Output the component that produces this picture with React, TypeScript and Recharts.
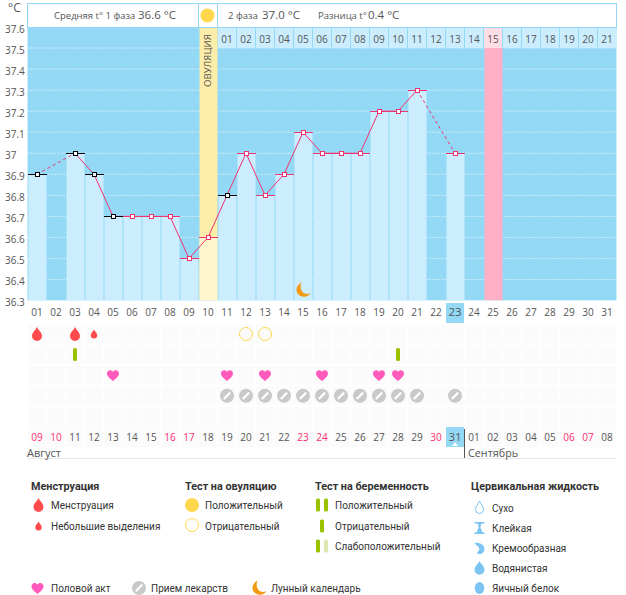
import React from 'react';
import { ComposedChart, Bar, Line, Cell, XAxis, YAxis, CartesianGrid } from 'recharts';

const FONT = '"Open Sans", sans-serif';
const LEGEND_FONT = 'Roboto, sans-serif';
const BLUE = '#93D9F6';
const LIGHT = '#CBEDFE';
const PINK = '#F0326E';
const TEXT = '#555';

const days = ['01','02','03','04','05','06','07','08','09','10','11','12','13','14','15','16','17','18','19','20','21','22','23','24','25','26','27','28','29','30','31'];
const dates = ['09','10','11','12','13','14','15','16','17','18','19','20','21','22','23','24','25','26','27','28','29','30','31','01','02','03','04','05','06','07','08'];
const redDates = ['09','10','16','17','23','24','30','06','07'];
const phaseDays = ['','','','','','','','','','','01','02','03','04','05','06','07','08','09','10','11','12','13','14','15','16','17','18','19','20','21'];
const temps = [36.9,null,37,36.9,36.7,36.7,36.7,36.7,36.5,36.6,36.8,37,36.8,36.9,37.1,37,37,37,37.2,37.2,37.3,null,37,null,null,null,null,null,null,null,null];
const gapStart = [36.9,null,37,null,null,null,null,null,null,null,null,null,null,null,null,null,null,null,null,null,null,null,null,null,null,null,null,null,null,null,null];
const gapEnd = [null,null,null,null,null,null,null,null,null,null,null,null,null,null,null,null,null,null,null,null,37.3,null,37,null,null,null,null,null,null,null,null];
const blackMarks = ['01','03','04','05','11'];
const tempTicks = [37.6,37.5,37.4,37.3,37.2,37.1,37,36.9,36.8,36.7,36.6,36.5,36.4,36.3];
const ovulationDay = '10';
const periodDay = '25';
const todayDay = '23';
const todayDate = '31';
const moonDays = ['15'];
const heavyFlow = ['01','03'];
const lightFlow = ['04'];
const negativeOvulation = ['12','13'];
const negativePregnancy = ['03','20'];
const hearts = ['05','11','13','16','19','20'];
const pills = ['11','12','13','14','15','16','17','18','19','20','21','23'];
const symbolRows = [0,1,2,3,4];

const tempData = days.map((day, i) => ({
  day,
  temp: temps[i],
  gapStart: gapStart[i],
  gapEnd: gapEnd[i],
  ovulation: day === ovulationDay ? 37.6 : null,
  period: day === periodDay ? 37.5 : null,
  moon: moonDays.includes(day) ? 36.35 : null,
}));

const rowData = days.map((day) => ({
  day,
  row0: 0, row1: 1, row2: 2, row3: 3, row4: 4,
  heavy: heavyFlow.includes(day) ? 0 : null,
  light: lightFlow.includes(day) ? 0 : null,
  ovu: negativeOvulation.includes(day) ? 0 : null,
  preg: negativePregnancy.includes(day) ? 1 : null,
  heart: hearts.includes(day) ? 2 : null,
  pill: pills.includes(day) ? 3 : null,
}));

const Drop = ({ x, y, s = 1 }: any) => (
  <path transform={`translate(${x},${y}) scale(${s})`} fill="#FF4B4B" d="M0,-7 C1.2,-4 5,-1.6 5,2 A5,5 0 0 1 -5,2 C-5,-1.6 -1.2,-4 0,-7 Z" />
);
const Heart = ({ x, y }: any) => (
  <path transform={`translate(${x},${y})`} fill="#FF5ABC" d="M0,6 C-2,4 -6,1.8 -6,-1.6 C-6,-3.8 -4.4,-5 -2.8,-5 C-1.6,-5 -0.6,-4.4 0,-3.4 C0.6,-4.4 1.6,-5 2.8,-5 C4.4,-5 6,-3.8 6,-1.6 C6,1.8 2,4 0,6 Z" />
);
const Pill = ({ x, y }: any) => (
  <g>
    <circle cx={x} cy={y} r={7} fill="#C9C9C9" />
    <line x1={x - 3.2} y1={y + 3.2} x2={x + 3.2} y2={y - 3.2} stroke="#fff" strokeWidth={2.2} />
  </g>
);
const Moon = ({ x, y }: any) => (
  <path transform={`translate(${x},${y})`} fill="#F39A14" d="M-1.5,-7.5 C-6,-5 -7.5,-1 -6,2.5 C-4.5,6 0,7.5 3,6.5 C5,6 6.5,4.8 7.5,3 C5,4.5 2,4.2 0,2.5 C-2.5,0 -3,-4 -1.5,-7.5 Z" />
);
const Ring = ({ x, y, fill = 'none' }: any) => (
  <circle cx={x} cy={y} r={6.5} fill={fill} stroke="#FFD84D" strokeWidth={1} />
);
const Stick = ({ x, y, fill = '#9BC200' }: any) => (
  <rect x={x - 2} y={y - 6.5} width={4} height={13} rx={1.5} fill={fill} />
);

// line with no stroke, only used to place a symbol through the chart scales
const symbolDot = (Shape: any, extra: any = {}) => (props: any) => {
  if (props.cy == null || props.payload == null) return <g key={props.key ?? props.index} />;
  return <g key={props.index}><Shape x={props.cx} y={props.cy} {...extra} /></g>;
};

const tempDot = (props: any) => {
  const { cx, cy, payload, index } = props;
  if (cy == null) return <g key={index} />;
  const color = blackMarks.includes(payload.day) ? '#000' : PINK;
  const px = Math.floor(cx);
  const py = Math.round(cy);
  return (
    <g key={index}>
      <line x1={px - 9} x2={px + 10} y1={py + 0.5} y2={py + 0.5} stroke={color} />
      <rect x={px - 1.5} y={py - 1.5} width={4} height={4} fill="#fff" stroke={color} />
    </g>
  );
};

const YTick = ({ y, payload }: any) => (
  <text x={5} y={y + 5.5} fontSize={10} fill={TEXT} fontFamily={FONT}>{payload.value}</text>
);

const DayTick = ({ x, payload }: any) => {
  const today = payload.value === todayDay;
  return (
    <g>
      {today && <rect x={x - 9} y={303} width={18} height={20} fill={BLUE} />}
      <text x={x} y={316} textAnchor="middle" fontSize={today ? 11.5 : 10} fill={TEXT} fontFamily={FONT}>{payload.value}</text>
    </g>
  );
};

const PhaseTick = ({ x, index }: any) => {
  const label = phaseDays[index];
  if (!label) return <g />;
  return (
    <g>
      <rect x={x - 9} y={28} width={18} height={20} fill={days[index] === periodDay ? '#FFDDE6' : LIGHT} />
      <text x={x} y={43} textAnchor="middle" fontSize={10} fill={TEXT} fontFamily={FONT}>{label}</text>
    </g>
  );
};

const DateTick = ({ x, index }: any) => {
  const label = dates[index];
  const today = label === todayDate;
  return (
    <g>
      <rect x={x - 9} y={427} width={18} height={20} fill={today ? BLUE : '#FBFBFB'} />
      {today && <path d={`M${x - 3},446 L${x},442 L${x + 3},446 Z`} fill="#fff" />}
      <text x={x} y={441} textAnchor="middle" fontSize={today ? 11.5 : 10} fill={redDates.includes(label) ? '#FF2D6F' : TEXT} fontFamily={FONT}>{label}</text>
    </g>
  );
};

const CellShape = ({ x, y }: any) => <rect x={x - 9} y={y - 9.5} width={18} height={19} fill="#FBFBFB" />;

const T = ({ x, y, size = 10, bold, fill = '#333', font = LEGEND_FONT, children }: any) => (
  <text x={x} y={y} fontSize={size} fontWeight={bold ? 700 : 400} fill={fill} fontFamily={font}>{children}</text>
);
const H = ({ x, y, size = 10, children }: any) => (
  <T x={x} y={y} size={size} fill={TEXT} font={FONT}>{children}</T>
);

const flowLegend = ['Менструация', 'Небольшие выделения'];
const ovuLegend = ['Положительный', 'Отрицательный'];
const pregLegend = ['Положительный', 'Отрицательный', 'Слабоположительный'];
const fluidLegend = ['Сухо', 'Клейкая', 'Кремообразная', 'Водянистая', 'Яичный белок'];
const FLUID = '#7CC4F4';

function Overlay() {
  return (
    <svg width={626} height={595} style={{ position: 'absolute', left: 0, top: 0 }}>
      {/* header */}
      <rect x={27.5} y={3.5} width={589} height={24} fill="#fff" stroke={BLUE} />
      <line x1={198.5} x2={198.5} y1={3} y2={27} stroke={BLUE} />
      <line x1={217.5} x2={217.5} y1={3} y2={27} stroke={BLUE} />
      <circle cx={207.5} cy={15.5} r={7} fill="#FFD84D" />
      <H x={54} y={19} size={9.5}>Средняя t° 1 фаза</H>
      <H x={138} y={19} size={11.5}>36.6 °C</H>
      <H x={228} y={19} size={9.5}>2 фаза</H>
      <H x={262} y={19} size={11.5}>37.0 °C</H>
      <H x={318} y={19} size={9.5}>Разница t°</H>
      <H x={368} y={19} size={11.5}>0.4 °C</H>
      <H x={8} y={12} size={12}>°C</H>
      <text transform="translate(211,87) rotate(-90)" fontSize={9.6} fill={TEXT} fontFamily={FONT}>ОВУЛЯЦИЯ</text>

      {/* months */}
      <line x1={27} x2={616} y1={458.5} y2={458.5} stroke="#E8E8E8" />
      <line x1={464.5} x2={464.5} y1={429} y2={458} stroke={TEXT} />
      <H x={27} y={457} size={11}>Август</H>
      <H x={468} y={457} size={10.8}>Сентябрь</H>

      {/* legend */}
      <T x={31} y={490} size={10.8} bold>Менструация</T>
      <Drop x={38.5} y={505} />
      <T x={51} y={509}>{flowLegend[0]}</T>
      <Drop x={38.5} y={526} s={0.65} />
      <T x={51} y={530}>{flowLegend[1]}</T>

      <T x={185} y={490} size={10.8} bold>Тест на овуляцию</T>
      <circle cx={192} cy={505} r={7} fill="#FFD84D" />
      <T x={205} y={509}>{ovuLegend[0]}</T>
      <Ring x={192} y={525} />
      <T x={205} y={530}>{ovuLegend[1]}</T>

      <T x={315} y={490} size={10.8} bold>Тест на беременность</T>
      <Stick x={318} y={505} />
      <Stick x={326} y={505} />
      <T x={335} y={509}>{pregLegend[0]}</T>
      <Stick x={322} y={526} />
      <T x={335} y={530}>{pregLegend[1]}</T>
      <Stick x={318} y={546} />
      <Stick x={326} y={546} fill="#DDE8B0" />
      <T x={335} y={550}>{pregLegend[2]}</T>

      <T x={471} y={490} size={10.8} bold>Цервикальная жидкость</T>
      <path transform="translate(479.5,508)" fill="#fff" stroke={FLUID} d="M0,-7 C1,-4 4,-2 4,1.5 A4,4 0 0 1 -4,1.5 C-4,-2 -1,-4 0,-7 Z" />
      <path transform="translate(479.5,528)" fill={FLUID} d="M-5,-6 H5 V-4.5 H2 C1,-2 0.5,-1 1.5,1 L3,4.5 H5 V6 H-5 V4.5 H-3 L-1.5,1 C-0.5,-1 -1,-2 -2,-4.5 H-5 Z" />
      <path transform="translate(479.5,548)" fill={FLUID} d="M-5,-5 C0,-6 5,-3 5,1 A5,5 0 0 1 -3,5 C-1,3.5 1,1 -1,-1 C-2,-2.5 -4,-3 -5,-5 Z" />
      <path transform="translate(479.5,568)" fill={FLUID} d="M0,-7 C1.2,-4 5,-2 5,1.8 A5,5 0 0 1 -5,1.8 C-5,-2 -1.2,-4 0,-7 Z" />
      <ellipse cx={479.5} cy={588} rx={4.8} ry={6} fill={FLUID} />
      {fluidLegend.map((label, i) => (
        <T key={label} x={492} y={[512, 532, 552, 572, 592][i]}>{label}</T>
      ))}

      <Heart x={37.5} y={588} />
      <T x={51} y={592}>Половой акт</T>
      <Pill x={139} y={588} />
      <T x={151} y={592}>Прием лекарств</T>
      <Moon x={259} y={588} />
      <T x={271} y={592}>Лунный календарь</T>
    </svg>
  );
}

export default function App() {
  return (
    <div style={{ position: 'absolute', left: 0, top: 0, width: 626, height: 595, background: '#fff', overflow: 'hidden' }}>
      <div style={{ position: 'absolute', left: 0, top: 0 }}>
        <ComposedChart width={626} height={595} data={rowData} margin={{ top: 323.7, right: 9.5, bottom: 148.3, left: 27.5 }}>
          <XAxis dataKey="day" scale="band" interval={0} height={20} axisLine={false} tickLine={false} tick={<DateTick />} />
          <YAxis hide type="number" reversed domain={[-0.5, 4.5]} />
          {symbolRows.map((r) => (
            <Line key={r} dataKey={`row${r}`} stroke="none" dot={symbolDot(CellShape)} isAnimationActive={false} />
          ))}
          <Line dataKey="heavy" stroke="none" dot={symbolDot(Drop)} isAnimationActive={false} />
          <Line dataKey="light" stroke="none" dot={symbolDot(Drop, { s: 0.65 })} isAnimationActive={false} />
          <Line dataKey="ovu" stroke="none" dot={symbolDot(Ring)} isAnimationActive={false} />
          <Line dataKey="preg" stroke="none" dot={symbolDot(Stick)} isAnimationActive={false} />
          <Line dataKey="heart" stroke="none" dot={symbolDot(Heart)} isAnimationActive={false} />
          <Line dataKey="pill" stroke="none" dot={symbolDot(Pill)} isAnimationActive={false} />
        </ComposedChart>
      </div>
      <div style={{ position: 'absolute', left: 0, top: 0 }}>
        <ComposedChart width={626} height={325} data={tempData} barSize={18} barGap={-18} margin={{ top: 26, right: 9.5, bottom: 5.5, left: 0 }}>
          <CartesianGrid fill={BLUE} vertical={false} horizontalValues={tempTicks.slice(1)} stroke="#fff" strokeDasharray="1 2" />
          <XAxis dataKey="day" scale="band" interval={0} height={19} axisLine={false} tickLine={false} tick={<DayTick />} />
          <YAxis type="number" domain={[36.3, 37.6]} ticks={tempTicks} interval={0} allowDataOverflow width={27.5} axisLine={false} tickLine={false} tick={<YTick />} />
          <Bar dataKey="ovulation" fill="#FCEDA8" isAnimationActive={false} />
          <Bar dataKey="period" fill="#FFAFC6" isAnimationActive={false} />
          <Bar dataKey="temp" fill={LIGHT} isAnimationActive={false}>
            {tempData.map((d) => <Cell key={d.day} fill={d.day === ovulationDay ? '#FEF7CE' : LIGHT} />)}
          </Bar>
          <Line dataKey="gapStart" stroke={PINK} strokeDasharray="3 3" connectNulls dot={false} isAnimationActive={false} />
          <Line dataKey="gapEnd" stroke={PINK} strokeDasharray="3 3" connectNulls dot={false} isAnimationActive={false} />
          <Line dataKey="temp" stroke={PINK} dot={tempDot} isAnimationActive={false} />
          <Line dataKey="moon" stroke="none" dot={symbolDot(Moon)} isAnimationActive={false} />
          <XAxis xAxisId="top" orientation="top" dataKey="day" scale="band" interval={0} height={1} axisLine={false} tickLine={false} tick={<PhaseTick />} />
          <Line xAxisId="top" dataKey="moon" stroke="none" dot={false} legendType="none" isAnimationActive={false} />
        </ComposedChart>
      </div>
      <Overlay />
    </div>
  );
}
